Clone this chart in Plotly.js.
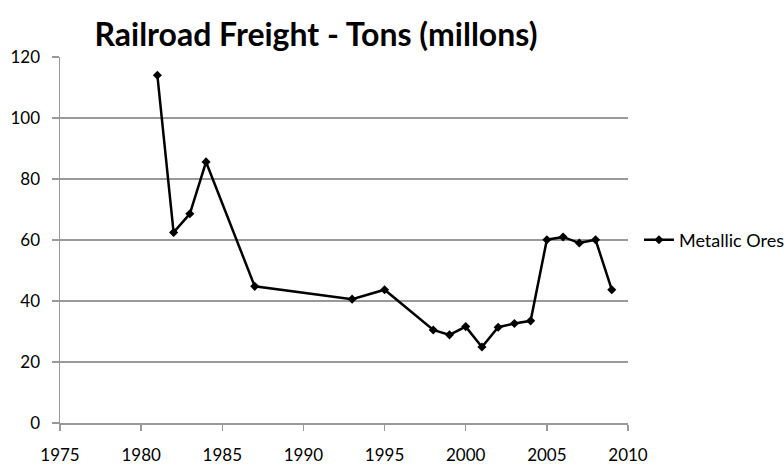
<!DOCTYPE html>
<html>
<head>
<meta charset="utf-8">
<script src="https://cdn.plot.ly/plotly-3.0.1.min.js"></script>
<style>html,body{margin:0;padding:0;background:#fff;}#chart{width:784px;height:466px;}</style>
</head>
<body>
<div id="chart"></div>
<script>
const years = [1981, 1982, 1983, 1984, 1987, 1993, 1995, 1998, 1999, 2000, 2001, 2002, 2003, 2004, 2005, 2006, 2007, 2008, 2009];
const metallicOres = [114, 62.5, 68.6, 85.6, 44.8, 40.6, 43.7, 30.5, 28.9, 31.6, 24.9, 31.4, 32.6, 33.5, 60.1, 61.0, 59.0, 60.1, 43.7];
const seriesName = "Metallic Ores";
const chartTitle = "Railroad Freight - Tons (millons)";

const trace = {
  x: years, y: metallicOres, name: seriesName,
  type: "scatter", mode: "lines+markers",
  line: {color: "#000", width: 2.5},
  marker: {symbol: "diamond", size: 7, color: "#000"}
};
const layout = {
  width: 784, height: 466,
  margin: {l: 60, r: 156, t: 57, b: 43, autoexpand: false},
  paper_bgcolor: "#fff", plot_bgcolor: "#fff",
  font: {family: "Lato, 'Open Sans', sans-serif", size: 17, color: "#000"},
  title: {text: "<b>" + chartTitle + "</b>", font: {family: "Lato, sans-serif", size: 32, color: "#000"},
          x: 0.403, xref: "container", xanchor: "center", y: 0.925, yref: "container", yanchor: "middle"},
  showlegend: true,
  legend: {x: 0.815, xref: "container", xanchor: "left", y: 0.5, yanchor: "middle", font: {size: 18, color: "#000"}, bgcolor: "rgba(0,0,0,0)",
           itemwidth: 30},
  xaxis: {range: [1975, 2010], dtick: 5, tick0: 1975, showgrid: false, zeroline: false,
          showline: true, linecolor: "#999", linewidth: 1.5, ticks: "outside", ticklen: 6, tickcolor: "#999", tickwidth: 1.5,
          ticklabelstandoff: 10, fixedrange: true},
  yaxis: {range: [0, 120], dtick: 20, tick0: 0, showgrid: true, gridcolor: "#999", gridwidth: 1.5, zeroline: false,
          showline: true, linecolor: "#999", linewidth: 1.5, ticks: "outside", ticklen: 7, tickcolor: "#999", tickwidth: 1.5,
          ticklabelstandoff: 8, fixedrange: true}
};
Plotly.newPlot("chart", [trace], layout, {displayModeBar: false, staticPlot: true});
</script>
</body>
</html>
